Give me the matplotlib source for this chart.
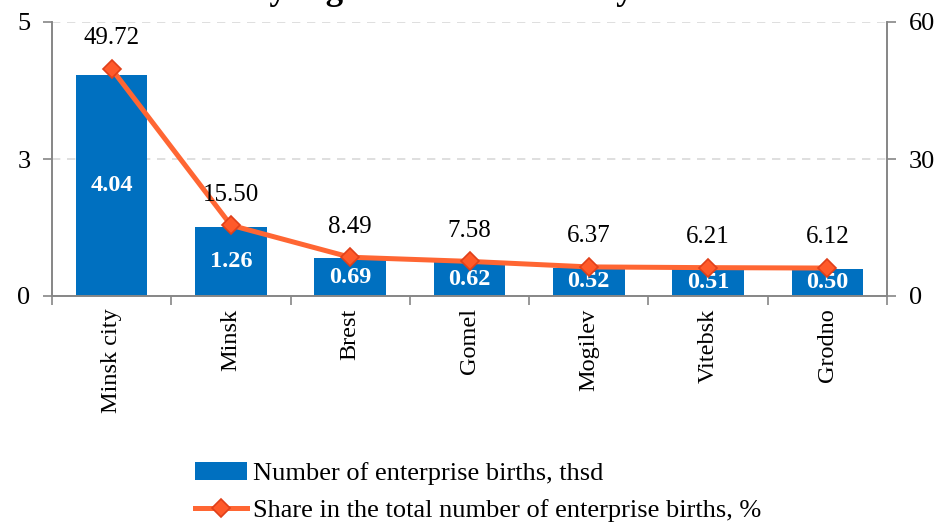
import numpy as np
import matplotlib
matplotlib.use("Agg")
import matplotlib.pyplot as plt

plt.rcParams['font.family'] = ['Liberation Serif', 'DejaVu Serif']

# data
regions = ["Minsk city", "Minsk", "Brest", "Gomel", "Mogilev", "Vitebsk", "Grodno"]
births_thsd = [4.04, 1.26, 0.69, 0.62, 0.52, 0.51, 0.50]
share_pct = [49.72, 15.50, 8.49, 7.58, 6.37, 6.21, 6.12]
left_ticks = [0, 2.5, 5]
left_ticklabels = ["0", "3", "5"]
right_ticks = [0, 30, 60]

bar_color = "#0070C0"
line_color = "#FF6633"
axis_gray = "#868686"

W, H = 940, 523
fig = plt.figure(figsize=(W / 100, H / 100), dpi=100)
ax = fig.add_axes([52 / W, 1 - 296 / H, (887 - 52) / W, (296 - 22) / H])
ax2 = ax.twinx()

x = np.arange(len(regions))
bars = ax.bar(x, births_thsd, width=0.6, color=bar_color, zorder=2,
              label="Number of enterprise births, thsd")
for xi, v in zip(x, births_thsd):
    ax.text(xi, v / 2, "%.2f" % v, ha="center", va="center", color="white",
            fontsize=17.5, fontweight="bold", zorder=3)

line, = ax2.plot(x, share_pct, color=line_color, lw=3.6, marker="D",
                 markersize=9, markerfacecolor="#FF5A2A",
                 markeredgecolor="#E0401A", markeredgewidth=1.2,
                 label="Share in the total number of enterprise births, %")
for xi, v in zip(x, share_pct):
    ax2.annotate("%.2f" % v, (xi, v), xytext=(0, 22), textcoords="offset points",
                 ha="center", va="center", fontsize=18)

ax.set_xlim(-0.5, len(regions) - 0.5)
ax.set_ylim(0, 5)
ax2.set_ylim(0, 60)

ax.set_yticks(left_ticks)
ax.set_yticklabels(left_ticklabels)
ax2.set_yticks(right_ticks)

ax.set_xticks(x)
ax.set_xticklabels(regions, rotation=90, fontsize=17.5)
ax.tick_params(axis="x", which="major", length=0, pad=9)
ax.set_xticks(np.arange(len(regions) + 1) - 0.5, minor=True)
ax.tick_params(axis="x", which="minor", length=6.5, color=axis_gray, width=1.2)

ax.tick_params(axis="y", labelsize=19, length=6.5, color=axis_gray, width=1.2, pad=9)
ax2.tick_params(axis="y", labelsize=19, length=6.5, color=axis_gray, width=1.2, pad=9)

ax.grid(axis="y", color="#D9D9D9", linestyle=(0, (5, 4)), linewidth=1.2, zorder=0)
ax.set_axisbelow(True)

for a in (ax, ax2):
    a.spines["top"].set_visible(False)
    for s in ("left", "right", "bottom"):
        a.spines[s].set_color(axis_gray)
        a.spines[s].set_linewidth(1.2)

# title runs off the top edge in the reference, only its descenders show
fig.text(500 / W, 1 + 1 / H, "by regions and Minsk city in 2017", ha="center",
         va="baseline", fontsize=25, fontweight="bold")

fig.legend([bars, line], [bars.get_label(), line.get_label()],
           loc="upper left", bbox_to_anchor=(195 / W, 1 - 462 / H),
           frameon=False, fontsize=19, handlelength=1.97, handletextpad=0.22,
           labelspacing=0.5, borderaxespad=0, borderpad=0)

fig.savefig("out.png", dpi=100)
